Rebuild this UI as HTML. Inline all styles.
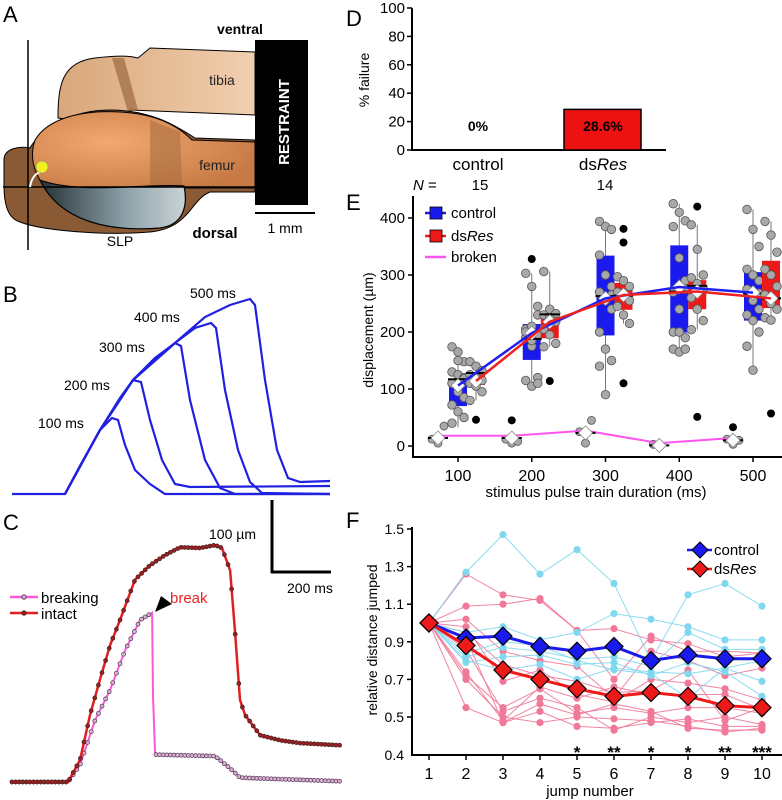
<!DOCTYPE html>
<html><head><meta charset="utf-8"><style>
html,body{margin:0;padding:0;background:#fff}
svg{display:block;font-family:"Liberation Sans",Arial,sans-serif}
</style></head><body>
<svg id="fig" width="782" height="800" viewBox="0 0 782 800" xmlns="http://www.w3.org/2000/svg">
<defs>
<linearGradient id="tib" x1="0" x2="1"><stop offset="0" stop-color="#d9a77a"/><stop offset="1" stop-color="#f1cfb0"/></linearGradient>
<radialGradient id="fem" cx="0.35" cy="0.4" r="0.7"><stop offset="0" stop-color="#f2a870"/><stop offset="1" stop-color="#c77a45"/></radialGradient>
<linearGradient id="slp" x1="0" x2="1"><stop offset="0" stop-color="#263238"/><stop offset="0.6" stop-color="#8fa3ab"/><stop offset="1" stop-color="#c9d3d6"/></linearGradient>
</defs>

<!-- Panel A -->
<g>
<text x="3" y="22" font-size="22">A</text>
<text x="240" y="34" font-size="14" font-weight="bold" text-anchor="middle">ventral</text>
<path d="M58,118 C58,85 62,62 95,58 C120,55 130,56 138,58 L150,48 L255,52 L255,115 L130,110 L120,125 Z" fill="url(#tib)" stroke="#000" stroke-width="1"/>
<path d="M112,58 L124,58 L138,110 L128,112 Z" fill="#9c6a42" opacity="0.7"/>
<path d="M4,160 C4,148 20,146 30,148 C40,130 70,110 110,110 C150,110 175,125 195,138 L255,140 L255,192 L210,192 C190,200 190,228 150,232 C100,236 40,230 20,222 C6,218 4,200 4,185 Z" fill="#8a5a34" stroke="#000" stroke-width="1"/>
<path d="M35,140 C50,115 90,110 120,112 C160,114 180,128 192,140 L255,142 L255,188 L45,188 C32,170 30,155 35,140 Z" fill="url(#fem)" stroke="#000" stroke-width="1"/>
<path d="M150,120 L180,132 L182,188 L150,188 Z" fill="#a0683c" opacity="0.5"/>
<path d="M40,180 C80,195 150,183 184,186 C188,205 184,225 160,228 C110,232 60,222 40,180 Z" fill="url(#slp)" stroke="#000" stroke-width="1.2"/>
<text x="222" y="85" font-size="14" text-anchor="middle" fill="#222">tibia</text>
<text x="217" y="170" font-size="14" text-anchor="middle" fill="#222">femur</text>
<text x="120" y="246" font-size="14" text-anchor="middle">SLP</text>
<text x="215" y="238" font-size="15" font-weight="bold" text-anchor="middle">dorsal</text>
<line x1="28" y1="40" x2="28" y2="250" stroke="#000" stroke-width="1.5"/>
<line x1="3" y1="187" x2="256" y2="187" stroke="#000" stroke-width="1.5"/>
<path d="M30,187 Q32,175 40,172" fill="none" stroke="#fff" stroke-width="2"/>
<circle cx="42" cy="167" r="6" fill="#f0f020" stroke="#888" stroke-width="0.5"/>
<rect x="255" y="40" width="53" height="165" fill="#000"/>
<text transform="translate(289,122) rotate(-90)" font-size="15" font-weight="bold" fill="#fff" text-anchor="middle">RESTRAINT</text>
<line x1="255" y1="213" x2="315" y2="213" stroke="#000" stroke-width="2"/>
<text x="285" y="233" font-size="14" text-anchor="middle">1 mm</text>
</g>

<!-- Panel B -->
<g fill="none" stroke="#2020e0" stroke-width="2.2">
<text x="3" y="302" font-size="22" fill="#000" stroke="none">B</text>
<path d="M12,494 L65,494 L80,466 L100,430 L112,418 L118,420 L125,445 L135,470 L150,484 L165,494 L330,494"/>
<path d="M65,494 L80,466 L100,430 L120,398 L133,380 L141,382 L150,420 L162,460 L175,484 L190,487 L330,486"/>
<path d="M65,494 L100,430 L133,380 L155,358 L175,343 L181,346 L190,400 L205,460 L220,488 L235,494 L330,494"/>
<path d="M65,494 L100,430 L133,380 L175,343 L195,328 L211,323 L216,328 L225,390 L238,450 L250,482 L262,493 L330,494"/>
<path d="M65,494 L100,430 L133,380 L175,343 L205,317 L230,305 L250,299 L255,305 L265,380 L277,450 L288,478 L300,482 L330,481"/>
<g fill="#000" stroke="none" font-size="14">
<text x="38" y="428">100 ms</text>
<text x="64" y="390">200 ms</text>
<text x="99" y="352">300 ms</text>
<text x="134" y="322">400 ms</text>
<text x="190" y="298">500 ms</text>
</g>
</g>

<!-- Panel C -->
<g>
<text x="3" y="530" font-size="22">C</text>
<line x1="272" y1="500" x2="272" y2="573" stroke="#000" stroke-width="3"/>
<line x1="271" y1="572" x2="331" y2="572" stroke="#000" stroke-width="3"/>
<text x="209" y="539" font-size="14">100 µm</text>
<text x="287" y="593" font-size="14">200 ms</text>
<g id="ctraces"></g>
<line x1="10" y1="597" x2="38" y2="597" stroke="#ff55dd" stroke-width="2.5"/>
<circle cx="24" cy="597" r="2.2" fill="#d8b0d0" stroke="#503050" stroke-width="0.8"/>
<text x="41" y="603" font-size="15">breaking</text>
<line x1="10" y1="613" x2="38" y2="613" stroke="#e02020" stroke-width="2.5"/>
<circle cx="24" cy="613" r="2.2" fill="#a02020" stroke="#402020" stroke-width="0.8"/>
<text x="41" y="619" font-size="15">intact</text>
<text x="170" y="603" font-size="15" fill="#ee2222">break</text>
<path d="M155,612 L161,596 L172,604 Z" fill="#000"/>
</g>

<!-- Panel D -->
<g id="pd">
<text x="346" y="26" font-size="22">D</text>
<text transform="translate(369,80) rotate(-90)" font-size="14" text-anchor="middle">% failure</text>
<line x1="412" y1="8" x2="412" y2="150" stroke="#000" stroke-width="2"/>
<line x1="411" y1="150" x2="666" y2="150" stroke="#000" stroke-width="2"/>
<text x="413" y="190" font-size="15"><tspan font-style="italic">N</tspan> =</text>
</g>

<!-- Panel E -->
<g id="pe">
<text x="346" y="210" font-size="22">E</text>
<text transform="translate(373,330) rotate(-90)" font-size="14" text-anchor="middle">displacement (µm)</text>
<text x="596" y="497" font-size="15" text-anchor="middle">stimulus pulse train duration (ms)</text>
</g>

<!-- Panel F -->
<g id="pf">
<text x="346" y="528" font-size="22">F</text>
<text transform="translate(377,640) rotate(-90)" font-size="14" text-anchor="middle">relative distance jumped</text>
<text x="590" y="796" font-size="15" text-anchor="middle">jump number</text>
</g>
</svg>
<script>
const NS='http://www.w3.org/2000/svg';
function mk(parent,tag,attrs,txt){const e=document.createElementNS(NS,tag);for(const k in attrs)e.setAttribute(k,attrs[k]);if(txt!==undefined)e.textContent=txt;parent.appendChild(e);return e;}

// ---------- Panel C data (ms, µm) ----------
const cIntactT=[0,187,227,260,293,327,360,410,460,510,560,627,677,700,727,743,760,777,827,893,960,1093];
const cIntactV=[0,0,31,93,142,190,225,281,301,315,326,325,329,325,294,211,114,93,65,58,54,51];
const cBreakT=[0,187,227,277,327,377,427,467,470,477,577,677,727,760,1093];
const cBreakV=[0,0,24,86,128,183,225,235,120,38,37,36,19,6,1];
(function(){
  const g=document.getElementById('ctraces');
  const x=t=>12+t*0.3, y=v=>782-v*0.72;
  function interp(T,V,t){for(let i=1;i<T.length;i++){if(t<=T[i]){const f=(t-T[i-1])/(T[i]-T[i-1]);return V[i-1]+f*(V[i]-V[i-1]);}}return V[V.length-1];}
  function trace(T,V,col,fill,stroke,name,w){
    let d='';T.forEach((t,i)=>d+=(i?'L':'M')+x(t)+','+y(V[i]));
    const p=mk(g,'path',{d:d,fill:'none',stroke:col,'stroke-width':w});
    
    
    for(let t=0;t<=T[T.length-1];t+=12){
      if(name==='breaking'&&t>467&&t<477)continue;
      const c=mk(g,'circle',{cx:x(t),cy:y(interp(T,V,t)),r:2,fill:fill,stroke:stroke,'stroke-width':0.7});
      
      
    }
  }
  trace(cBreakT,cBreakV,'#ff55dd','#d8b0d0','#503050','breaking',2);
  trace(cIntactT,cIntactV,'#e02020','#a02020','#402020','intact',2.5);
})();

// ---------- Panel D data ----------
const dGroups=['control','dsRes'];
const dFailure=[0,28.6];
const dN=[15,14];
const dTicks=[0,20,40,60,80,100];
(function(){
  const g=document.getElementById('pd');
  const y=v=>150-v*1.42;
  const xc=[478,603];
  dTicks.forEach(t=>{
    const l=mk(g,'line',{x1:407,x2:412,y1:y(t),y2:y(t),stroke:'#000','stroke-width':1.5});
    
    
    const tx=mk(g,'text',{x:405,y:y(t)+5,'font-size':15,'text-anchor':'end'},t);
    
    
  });
  dGroups.forEach((gname,i)=>{
    const r=mk(g,'rect',{x:xc[i]-39,y:y(dFailure[i]),width:77,height:150-y(dFailure[i]),fill:'#ee1111',stroke:'#000','stroke-width':1.5});
    
    
    const v=mk(g,'text',{x:xc[i],y:131,'font-size':14,'font-weight':'bold','text-anchor':'middle'},dFailure[i]+'%');
    
    
    const lab=mk(g,'text',{x:xc[i],y:170,'font-size':17,'text-anchor':'middle'});
    
    
    if(gname==='dsRes'){lab.appendChild(document.createTextNode('ds'));mk(lab,'tspan',{'font-style':'italic'},'Res');}
    else lab.textContent=gname;
    const n=mk(g,'text',{x:xc[i]+2,y:190,'font-size':15,'text-anchor':'middle'},dN[i]);
    
    
  });
})();

// ---------- Panel E data ----------
const eDurations=[100,200,300,400,500];
const eTicks=[0,100,200,300,400];
const ctlQ1=[70,151,194,199,220];
const ctlMed=[117,188,263,271,268];
const ctlQ3=[117,214,334,352,305];
const ctlLo=[33,104,89,165,133];
const ctlHi=[174,303,394,425,415];
const ctlMean=[106,198,259,279,269];
const dsQ1=[107,189,239,240,242];
const dsMed=[128,231,264,281,259];
const dsQ3=[130,233,286,291,325];
const dsLo=[80,174,215,204,221];
const dsHi=[148,306,297,388,394];
const dsMean=[114,218,265,271,259];
const dsOutliers=[[46],[114],[381,357,110],[420,51],[57]];
const ctlOutliers=[[],[328],[],[],[]];
const ctlPts=[[174,165,148,130,125,120,110,95,85,72,60,50,40,150,118],[303,280,245,205,210,195,190,175,120,115,105,110,200,185,230],[394,385,380,335,300,280,270,255,240,200,170,150,140,90,265],[425,410,395,385,330,290,270,240,190,170,165,170,200,200,275],[415,380,350,310,300,290,275,255,240,230,220,200,175,133,268]];
const dsPts=[[148,140,132,125,120,115,110,105,95,80],[306,240,232,230,225,218,205,195,180,174],[297,290,280,270,265,255,245,230,215],[388,345,300,295,285,275,260,240,220,204],[394,370,340,310,300,280,265,250,240,225,221]];
const brokenMean=[18,18,27,5,14];
const brokenPts=[[12,5,35],[12,5,8],[25,5,45],[3],[12,3,10]];
const brokenOut=[[],[45],[],[],[33]];
(function(){
  const g=document.getElementById('pe');
  const x=d=>458+(d-100)*0.7375;
  const y=v=>446-v*0.57;
  const ax=mk(g,'path',{d:'M413,196 L413,457 L782,457',fill:'none',stroke:'#000','stroke-width':2});
  
  
  eTicks.forEach(t=>{
    const l=mk(g,'line',{x1:408,x2:413,y1:y(t),y2:y(t),stroke:'#000','stroke-width':1.5});
    
    
    const tx=mk(g,'text',{x:405,y:y(t)+5,'font-size':15,'text-anchor':'end'},t);
    
    
  });
  eDurations.forEach(d=>{
    const l=mk(g,'line',{x1:x(d),x2:x(d),y1:457,y2:462,stroke:'#000','stroke-width':1.5});
    
    
    const tx=mk(g,'text',{x:x(d),y:481,'font-size':16,'text-anchor':'middle'},d);
    
    
  });
  function box(cx,q1,med,q3,lo,hi,mean,pts,outs,col,name){
    const w=mk(g,'line',{x1:cx,x2:cx,y1:y(hi),y2:y(lo),stroke:'#777','stroke-width':1});
    
    
    const r=mk(g,'rect',{x:cx-9,y:y(q3),width:18,height:Math.max(1,y(q1)-y(q3)),fill:col});
    
    
    pts.forEach((p,i)=>{const c=mk(g,'circle',{cx:cx+((i%3)-1)*6,cy:y(p),r:4.3,fill:'#a8a8a8',stroke:'#555','stroke-width':0.8});
      
      });
    outs.forEach(p=>{const c=mk(g,'circle',{cx:cx,cy:y(p),r:4,fill:'#000'});
      
      });
    const m=mk(g,'line',{x1:cx-10,x2:cx+10,y1:y(med),y2:y(med),stroke:'#000','stroke-width':2});
    
    
    const dm=mk(g,'path',{d:`M${cx},${y(mean)-7} l7,7 l-7,7 l-7,-7 Z`,fill:'#fff',stroke:'#888','stroke-width':0.8});
    
    
  }
  eDurations.forEach((d,i)=>{
    box(x(d),ctlQ1[i],ctlMed[i],ctlQ3[i],ctlLo[i],ctlHi[i],ctlMean[i],ctlPts[i],ctlOutliers[i],'#1a1aee','control-'+d);
    box(x(d)+18,dsQ1[i],dsMed[i],dsQ3[i],dsLo[i],dsHi[i],dsMean[i],dsPts[i],dsOutliers[i],'#ee1a1a','dsres-'+d);
  });
  let lc='',ld='',lb='';
  eDurations.forEach((d,i)=>{lc+=(i?'L':'M')+x(d)+','+y(ctlMean[i]);ld+=(i?'L':'M')+(x(d)+18)+','+y(dsMean[i]);lb+=(i?'L':'M')+(x(d)-20)+','+y(brokenMean[i]);});
  const l1=mk(g,'path',{d:lc,fill:'none',stroke:'#2020ee','stroke-width':2.5});
  
  
  const l2=mk(g,'path',{d:ld,fill:'none',stroke:'#ee2020','stroke-width':2.5});
  
  
  eDurations.forEach((d,i)=>{
    const cx=x(d)-20;
    brokenPts[i].forEach((p,j)=>{const c=mk(g,'circle',{cx:cx+((j%3)-1)*6,cy:y(p),r:4,fill:'#a8a8a8',stroke:'#555','stroke-width':0.8});
      
      });
    brokenOut[i].forEach(p=>{const c=mk(g,'circle',{cx:cx,cy:y(p),r:4,fill:'#000'});
      
      });
  });
  const l3=mk(g,'path',{d:lb,fill:'none',stroke:'#ff55ee','stroke-width':2});
  
  
  eDurations.forEach((d,i)=>{
    const cx=x(d)-20;
    const m=mk(g,'line',{x1:cx-10,x2:cx+10,y1:y(brokenMean[i]-4),y2:y(brokenMean[i]-4),stroke:'#000','stroke-width':2});
    
    
    const dm=mk(g,'path',{d:`M${cx},${y(brokenMean[i]-4)-7} l7,7 l-7,7 l-7,-7 Z`,fill:'#fff',stroke:'#888','stroke-width':0.8});
    
    
  });
  const leg=[['control','#1a1aee',213],['dsRes','#ee1a1a',236]];
  leg.forEach(([n,c,yy])=>{
    const l=mk(g,'line',{x1:425,x2:446,y1:yy,y2:yy,stroke:c,'stroke-width':2.5});
    
    
    const r=mk(g,'rect',{x:430,y:yy-6,width:12,height:12,fill:c,stroke:'#000','stroke-width':0.8});
    
    
    const t=mk(g,'text',{x:451,y:yy+5,'font-size':15});
    
    
    if(n==='dsRes'){t.appendChild(document.createTextNode('ds'));mk(t,'tspan',{'font-style':'italic'},'Res');}else t.textContent=n;
  });
  const bl=mk(g,'line',{x1:425,x2:446,y1:257,y2:257,stroke:'#ff55ee','stroke-width':2.5});
  
  
  const bt=mk(g,'text',{x:451,y:262,'font-size':15},'broken');
  
  
})();

// ---------- Panel F data ----------
const fJumps=[1,2,3,4,5,6,7,8,9,10];
const fTicks=[1.5,1.3,1.1,0.9,0.7,0.5];
const fCtlMean=[1,0.92,0.93,0.875,0.85,0.875,0.80,0.83,0.81,0.81];
const fDsMean=[1,0.88,0.75,0.70,0.65,0.61,0.63,0.61,0.56,0.55];
const fStars=['','','','','*','**','*','*','**','***'];
const fCtlInd=[
[1,1.27,1.47,1.26,1.39,1.21,0.80,1.15,1.21,1.09],
[1,0.95,0.98,0.91,0.95,1.05,1.02,0.98,0.91,0.91],
[1,0.82,0.87,0.85,0.81,0.82,0.77,0.95,0.86,0.86],
[1,0.80,0.75,0.78,0.70,0.76,0.74,0.73,0.76,0.69],
[1,0.79,0.82,0.83,0.78,0.79,0.72,0.79,0.74,0.61],
[1,0.84,0.90,0.88,0.80,0.75,0.73,0.60,0.76,0.80]];
const fDsInd=[
[1,1.26,1.15,1.12,0.96,0.97,0.91,0.89,0.82,0.84],
[1,1.09,1.10,1.13,0.96,0.70,0.93,0.85,0.85,0.84],
[1,1.02,0.85,0.80,0.77,0.60,0.85,0.80,0.72,0.76],
[1,0.98,0.69,0.75,0.62,0.58,0.70,0.68,0.65,0.59],
[1,0.72,0.55,0.65,0.52,0.55,0.52,0.55,0.55,0.52],
[1,0.55,0.47,0.53,0.45,0.44,0.47,0.49,0.45,0.45],
[1,0.70,0.50,0.47,0.50,0.49,0.48,0.45,0.42,0.44],
[1,0.86,0.53,0.60,0.55,0.43,0.50,0.47,0.50,0.46],
[1,0.92,0.47,0.57,0.51,0.57,0.53,0.44,0.43,0.43],
[1,0.74,0.48,0.66,0.60,0.66,0.62,0.62,0.62,0.54],
[1,0.95,0.78,0.72,0.69,0.63,0.64,0.75,0.48,0.55]];
(function(){
  const g=document.getElementById('pf');
  const x=j=>429+(j-1)*37;
  const y=v=>717-(v-0.5)*188;
  const ax=mk(g,'path',{d:'M412,527 L412,755 L782,755',fill:'none',stroke:'#000','stroke-width':2});
  
  
  fTicks.forEach(t=>{
    const l=mk(g,'line',{x1:407,x2:412,y1:y(t),y2:y(t),stroke:'#000','stroke-width':1.5});
    
    
    const tx=mk(g,'text',{x:404,y:y(t)+5,'font-size':14,'text-anchor':'end'},t.toFixed(1));
    
    
  });
  const t4=mk(g,'text',{x:404,y:760,'font-size':14,'text-anchor':'end'},'0.4');
  
  
  fJumps.forEach((j,i)=>{
    const l=mk(g,'line',{x1:x(j),x2:x(j),y1:755,y2:760,stroke:'#000','stroke-width':1.5});
    
    
    const tx=mk(g,'text',{x:x(j),y:779,'font-size':16,'text-anchor':'middle'},j);
    
    
    if(fStars[i]){const s=mk(g,'text',{x:x(j),y:758,'font-size':17,'font-weight':'bold','text-anchor':'middle'},fStars[i]);
      
      }
  });
  function ind(arr,col,name){
    arr.forEach(s=>{
      let d='';s.forEach((v,i)=>d+=(i?'L':'M')+x(fJumps[i])+','+y(v));
      const p=mk(g,'path',{d:d,fill:'none',stroke:col,'stroke-width':1,opacity:0.9});
      
      
      s.forEach((v,i)=>{const c=mk(g,'circle',{cx:x(fJumps[i]),cy:y(v),r:3.6,fill:col});
        
        });
    });
  }
  ind(fDsInd,'#f07898','dsres-individual');
  ind(fCtlInd,'#80d8ee','control-individual');
  function mean(arr,col,name){
    let d='';arr.forEach((v,i)=>d+=(i?'L':'M')+x(fJumps[i])+','+y(v));
    const p=mk(g,'path',{d:d,fill:'none',stroke:col,'stroke-width':3});
    
    
    arr.forEach((v,i)=>{const m=mk(g,'path',{d:`M${x(fJumps[i])},${y(v)-9} l9,9 l-9,9 l-9,-9 Z`,fill:col,stroke:'#000','stroke-width':1.2});
      
      });
  }
  mean(fCtlMean,'#1a1aee','control');
  mean(fDsMean,'#ee1a1a','dsres');
  [['control','#1a1aee',550],['dsRes','#ee1a1a',569]].forEach(([n,c,yy])=>{
    const l=mk(g,'line',{x1:687,x2:712,y1:yy,y2:yy,stroke:c,'stroke-width':2.5});
    
    
    const m=mk(g,'path',{d:`M700,${yy-8} l8,8 l-8,8 l-8,-8 Z`,fill:c,stroke:'#000','stroke-width':1});
    
    
    const t=mk(g,'text',{x:714,y:yy+5,'font-size':15});
    
    
    if(n==='dsRes'){t.appendChild(document.createTextNode('ds'));mk(t,'tspan',{'font-style':'italic'},'Res');}else t.textContent=n;
  });
})();
</script>
</body></html>
